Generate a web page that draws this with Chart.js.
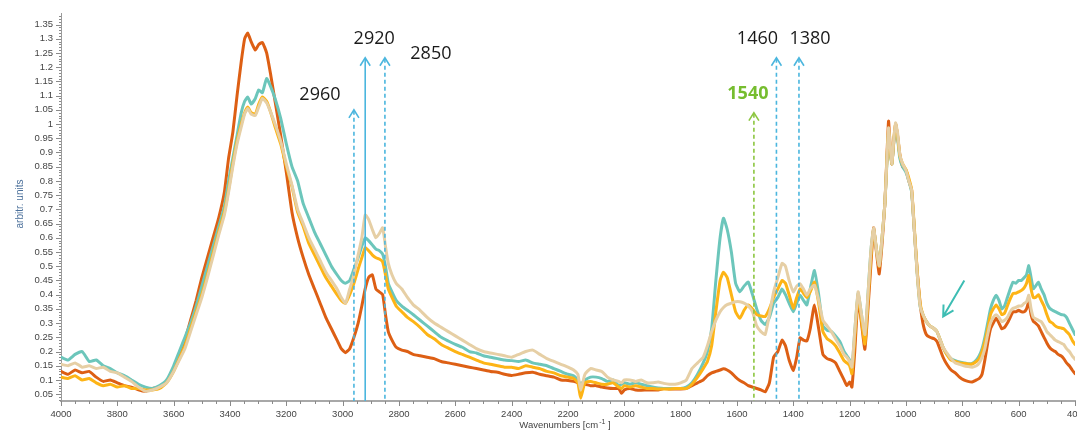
<!DOCTYPE html>
<html>
<head>
<meta charset="utf-8">
<script src="https://cdn.jsdelivr.net/npm/chart.js@4.4.1/dist/chart.umd.min.js"></script>
<style>
  html, body { margin: 0; padding: 0; background: #fff; width: 1077px; height: 432px; overflow: hidden; }
  canvas { display: block; }
</style>
</head>
<body>
<canvas id="chart" width="1100" height="432"></canvas>
<script>
// wavenumbers (cm-1), shared by all four spectra
const wavenumbers = [
  4000, 3975, 3950, 3925, 3900, 3875, 3850, 3825, 3800, 3775,
  3750, 3725, 3700, 3675, 3650, 3625, 3600, 3580, 3560, 3540,
  3520, 3500, 3480, 3460, 3440, 3420, 3405, 3390, 3375, 3360,
  3348, 3337, 3325, 3310, 3298, 3285, 3270, 3255, 3240, 3220,
  3200, 3180, 3160, 3140, 3120, 3100, 3080, 3060, 3040, 3020,
  3005, 2990, 2975, 2960, 2945, 2932, 2920, 2908, 2895, 2882,
  2870, 2858, 2848, 2838, 2825, 2810, 2790, 2770, 2750, 2725,
  2700, 2675, 2650, 2625, 2600, 2575, 2550, 2525, 2500, 2475,
  2450, 2425, 2400, 2375, 2350, 2325, 2300, 2275, 2250, 2225,
  2200, 2180, 2165, 2155, 2140, 2120, 2100, 2080, 2060, 2040,
  2020, 2010, 2000, 1980, 1960, 1940, 1920, 1900, 1880, 1860,
  1840, 1820, 1800, 1780, 1760, 1740, 1720, 1705, 1690, 1675,
  1660, 1648, 1635, 1620, 1605, 1590, 1575, 1560, 1545, 1530,
  1515, 1500, 1485, 1470, 1455, 1440, 1428, 1415, 1400, 1388,
  1376, 1364, 1352, 1340, 1325, 1310, 1295, 1280, 1265, 1250,
  1235, 1220, 1210, 1200, 1192, 1182, 1170, 1158, 1146, 1135,
  1125, 1115, 1105, 1095, 1085, 1075, 1068, 1062, 1056, 1050,
  1044, 1037, 1030, 1022, 1012, 1000, 990, 980, 970, 960,
  950, 940, 928, 915, 900, 890, 880, 868, 855, 840,
  825, 810, 795, 780, 765, 750, 740, 730, 720, 710,
  700, 690, 680, 670, 660, 650, 640, 630, 620, 610,
  600, 590, 580, 572, 564, 556, 548, 540, 530, 520,
  510, 500, 490, 480, 470, 460, 450, 440, 430, 420,
  410, 400
];

const rustValues = [
  .13, .12, .135, .125, .13, .11, .095, .1, .09, .08,
  .075, .065, .06, .07, .075, .095, .14, .18, .24, .31,
  .38, .46, .53, .6, .67, .76, .88, .97, 1.1, 1.22,
  1.3, 1.32, 1.29, 1.26, 1.28, 1.287, 1.25, 1.17, 1.08, .96,
  .83, .69, .6, .53, .47, .42, .37, .32, .28, .24,
  .21, .196, .21, .25, .3, .36, .42, .46, .47, .42,
  .41, .4, .33, .27, .24, .215, .205, .2, .19, .185,
  .18, .175, .165, .16, .155, .15, .145, .14, .135, .13,
  .127, .12, .116, .12, .125, .127, .12, .115, .11, .1,
  .098, .095, .09, .085, .085, .08, .08, .075, .072, .07,
  .07, .053, .065, .07, .065, .064, .065, .065, .065, .07,
  .068, .068, .068, .07, .08, .09, .1, .115, .125, .13,
  .135, .139, .135, .125, .11, .098, .09, .08, .075, .07,
  .065, .058, .09, .18, .2, .24, .22, .17, .133, .18,
  .248, .24, .237, .28, .364, .28, .19, .175, .17, .16,
  .13, .1, .08, .093, .075, .2, .387, .3, .208, .35,
  .5, .635, .55, .473, .58, .721, .88, 1.01, .92, .86,
  .93, 1.0, .96, .894, .85, .837, .8, .767, .62, .48,
  .37, .3, .26, .25, .245, .235, .21, .179, .155, .135,
  .125, .11, .1, .095, .093, .1, .105, .12, .17, .23,
  .28, .3, .317, .3, .28, .285, .3, .32, .34, .34,
  .345, .34, .34, .35, .375, .33, .306, .3, .29, .27,
  .25, .23, .214, .205, .2, .19, .185, .175, .16, .15,
  .135, .122
];

const tealValues = [
  .18, .17, .19, .2, .165, .17, .15, .14, .125, .115,
  .1, .085, .075, .07, .08, .1, .15, .2, .25, .3,
  .36, .43, .5, .57, .64, .71, .8, .88, .96, 1.04,
  1.08, 1.095, 1.07, 1.09, 1.12, 1.11, 1.16, 1.13, 1.09, 1.02,
  .93, .85, .8, .72, .67, .62, .58, .54, .5, .47,
  .45, .44, .45, .49, .53, .57, .6, .59, .575, .56,
  .555, .542, .5, .44, .41, .38, .36, .345, .33, .31,
  .29, .27, .25, .237, .225, .215, .2, .195, .185, .18,
  .175, .17, .168, .165, .17, .16, .155, .15, .14, .13,
  .12, .115, .1, .085, .1, .11, .11, .105, .095, .1,
  .08, .085, .09, .085, .09, .085, .08, .075, .072, .07,
  .07, .07, .07, .075, .09, .12, .16, .2, .28, .45,
  .6, .669, .63, .55, .44, .41, .43, .444, .4, .35,
  .31, .295, .32, .37, .39, .42, .4, .37, .34, .37,
  .398, .38, .364, .42, .485, .4, .29, .275, .27, .255,
  .235, .2, .185, .17, .135, .27, .404, .33, .243, .4,
  .55, .629, .56, .502, .6, .72, .86, .97, .9, .86,
  .93, .99, .95, .88, .85, .83, .8, .76, .62, .47,
  .36, .33, .306, .29, .28, .27, .245, .214, .19, .175,
  .168, .163, .16, .157, .158, .17, .185, .21, .25, .3,
  .35, .38, .398, .38, .35, .36, .39, .42, .444, .44,
  .45, .45, .46, .47, .502, .46, .421, .43, .444, .42,
  .4, .37, .352, .345, .34, .335, .33, .329, .32, .3,
  .28, .26
];

const amberValues = [
  .11, .105, .115, .1, .105, .09, .08, .085, .075, .08,
  .07, .07, .065, .065, .07, .09, .13, .175, .22, .28,
  .34, .4, .47, .545, .62, .69, .77, .86, .94, 1.0,
  1.04, 1.06, 1.04, 1.035, 1.07, 1.095, 1.08, 1.04, .99, .93,
  .85, .78, .69, .64, .58, .54, .5, .46, .43, .4,
  .38, .37, .4, .44, .49, .53, .565, .555, .54, .53,
  .525, .515, .47, .42, .39, .36, .34, .32, .306, .285,
  .26, .245, .225, .212, .2, .19, .18, .17, .16, .155,
  .15, .145, .145, .14, .15, .145, .14, .13, .125, .115,
  .11, .105, .09, .036, .09, .095, .09, .085, .085, .09,
  .075, .07, .08, .075, .08, .075, .07, .07, .068, .068,
  .068, .07, .07, .07, .085, .11, .14, .165, .22, .34,
  .45, .479, .46, .4, .34, .317, .345, .364, .35, .33,
  .325, .323, .35, .39, .42, .45, .44, .4, .352, .39,
  .421, .405, .39, .41, .444, .37, .27, .245, .235, .22,
  .195, .168, .16, .15, .122, .25, .399, .31, .226, .38,
  .53, .63, .56, .5, .6, .72, .87, .98, .91, .86,
  .94, 1.0, .96, .89, .86, .84, .81, .77, .63, .48,
  .37, .33, .306, .29, .28, .27, .245, .214, .19, .17,
  .165, .16, .158, .156, .156, .165, .175, .2, .235, .28,
  .33, .35, .364, .35, .33, .335, .36, .385, .404, .405,
  .41, .415, .425, .44, .467, .42, .39, .39, .4, .38,
  .36, .33, .306, .3, .29, .285, .283, .28, .27, .26,
  .24, .225
];

const beigeValues = [
  .155, .15, .16, .145, .15, .14, .145, .13, .125, .11,
  .095, .075, .06, .065, .075, .09, .13, .17, .21, .27,
  .33, .39, .46, .535, .61, .68, .76, .85, .93, .99,
  1.035, 1.055, 1.035, 1.03, 1.06, 1.09, 1.075, 1.04, 1.0, .94,
  .86, .785, .7, .65, .6, .56, .52, .48, .45, .42,
  .39, .37, .42, .47, .54, .6, .68, .665, .63, .6,
  .615, .635, .57, .51, .47, .44, .42, .39, .365, .345,
  .32, .3, .285, .27, .255, .24, .225, .21, .2, .195,
  .19, .185, .18, .19, .2, .205, .19, .175, .165, .155,
  .145, .135, .12, .064, .12, .14, .135, .13, .11, .1,
  .095, .09, .1, .1, .095, .1, .09, .09, .093, .088,
  .085, .085, .09, .1, .14, .16, .18, .22, .27, .31,
  .34, .355, .365, .37, .375, .375, .37, .36, .34, .29,
  .27, .26, .33, .41, .46, .51, .5, .45, .41, .43,
  .438, .42, .398, .42, .433, .38, .31, .29, .27, .245,
  .22, .19, .18, .165, .145, .27, .41, .33, .26, .4,
  .55, .635, .56, .502, .6, .72, .87, .987, .92, .86,
  .94, 1.004, .97, .894, .86, .837, .8, .767, .62, .47,
  .36, .33, .306, .29, .28, .27, .245, .214, .195, .175,
  .16, .155, .15, .147, .145, .15, .16, .18, .21, .26,
  .3, .32, .329, .32, .305, .31, .32, .34, .352, .355,
  .36, .36, .37, .375, .398, .35, .32, .315, .31, .305,
  .29, .27, .26, .25, .24, .235, .23, .225, .21, .2,
  .185, .173
];

// axis tick labels
const xTickValues = [4000, 3800, 3600, 3400, 3200, 3000, 2800, 2600, 2400, 2200, 2000, 1800, 1600, 1400, 1200, 1000, 800, 600, 400];
const yTickValues = [0.05, 0.1, 0.15, 0.2, 0.25, 0.3, 0.35, 0.4, 0.45, 0.5, 0.55, 0.6, 0.65, 0.7, 0.75, 0.8, 0.85, 0.9, 0.95, 1, 1.05, 1.1, 1.15, 1.2, 1.25, 1.3, 1.35];

// band markers drawn over the spectra
const markerBands = [2960, 2920, 2850, 1540, 1460, 1380];
const markerLabels = ["2960", "2920", "2850", "1540", "1460", "1380"];

const toPoints = (vals) => wavenumbers.map((w, i) => ({ x: w, y: vals[i] }));

// marker drawing settings: top of the line (y value), label offset in px, style
const markerStyle = [
  { top: 1.05,  dx: -34, dy: -15, solid: false, green: false },
  { top: 1.233, dx: 9,   dy: -19, solid: true,  green: false },
  { top: 1.233, dx: 46,  dy: -4,  solid: false, green: false },
  { top: 1.04,  dx: -6,  dy: -19, solid: false, green: true },
  { top: 1.233, dx: -19, dy: -19, solid: false, green: false },
  { top: 1.233, dx: 11,  dy: -19, solid: false, green: false },
];

const overlay = {
  id: "overlay",
  afterDatasetsDraw(chart) {
    const { ctx, chartArea } = chart;
    const x = chart.scales.x;
    const y = chart.scales.y;

    ctx.save();
    // minor ticks on y axis
    ctx.strokeStyle = "#8a8a8a";
    ctx.lineWidth = 1;
    for (let k = 3; k <= 138; k++) {
      const py = Math.round(y.getPixelForValue(k / 100)) + 0.5;
      const len = k % 5 === 0 ? 5 : 2;
      ctx.beginPath();
      ctx.moveTo(chartArea.left - len, py);
      ctx.lineTo(chartArea.left, py);
      ctx.stroke();
    }
    // minor ticks on x axis
    for (let w = 400; w <= 4000; w += 50) {
      const px = Math.round(x.getPixelForValue(w)) + 0.5;
      const len = w % 200 === 0 ? 5 : 3;
      ctx.beginPath();
      ctx.moveTo(px, chartArea.bottom);
      ctx.lineTo(px, chartArea.bottom + len);
      ctx.stroke();
    }

    // vertical band markers with open arrow heads
    markerBands.forEach((band, i) => {
      const st = markerStyle[i];
      const px = x.getPixelForValue(band);
      const top = y.getPixelForValue(st.top);
      const col = st.green ? "#8cc63f" : "#4bb6de";
      ctx.strokeStyle = col;
      ctx.lineWidth = 1.6;
      ctx.setLineDash(st.solid ? [] : [4, 3]);
      ctx.beginPath();
      ctx.moveTo(px, top + 1);
      ctx.lineTo(px, chartArea.bottom);
      ctx.stroke();
      ctx.setLineDash([]);
      ctx.beginPath();
      ctx.moveTo(px - 5, top + 8);
      ctx.lineTo(px, top);
      ctx.lineTo(px + 5, top + 8);
      ctx.stroke();

      ctx.font = (st.green ? "bold " : "") + '18px "Open Sans"';
      ctx.fillStyle = st.green ? "#76bd2f" : "#1a1a1a";
      ctx.textAlign = "center";
      ctx.textBaseline = "middle";
      ctx.fillText(markerLabels[i], px + st.dx, top + st.dy);
    });

    // teal arrow pointing at the shoulder near 870
    const ax0 = x.getPixelForValue(793), ay0 = y.getPixelForValue(0.45);
    const ax1 = x.getPixelForValue(868), ay1 = y.getPixelForValue(0.323);
    ctx.strokeStyle = "#3dbdb3";
    ctx.lineWidth = 2;
    ctx.beginPath();
    ctx.moveTo(ax0, ay0);
    ctx.lineTo(ax1, ay1);
    const ang = Math.atan2(ay1 - ay0, ax1 - ax0);
    ctx.moveTo(ax1 - 12 * Math.cos(ang - 0.5), ay1 - 12 * Math.sin(ang - 0.5));
    ctx.lineTo(ax1, ay1);
    ctx.lineTo(ax1 - 12 * Math.cos(ang + 0.5), ay1 - 12 * Math.sin(ang + 0.5));
    ctx.stroke();

    // axis titles
    ctx.fillStyle = "#4a6f9a";
    ctx.font = '10px "Liberation Sans"';
    ctx.textAlign = "center";
    ctx.textBaseline = "middle";
    ctx.translate(20, 204);
    ctx.rotate(-Math.PI / 2);
    ctx.fillText("arbitr. units", 0, 0);
    ctx.setTransform(1, 0, 0, 1, 0, 0);

    ctx.fillStyle = "#444";
    ctx.textAlign = "left";
    ctx.textBaseline = "alphabetic";
    const part1 = "Wavenumbers [cm";
    const part3 = " ]";
    ctx.font = '9.5px "Liberation Sans"';
    const w1 = ctx.measureText(part1).width;
    const w3 = ctx.measureText(part3).width;
    ctx.font = '7px "Liberation Sans"';
    const w2 = ctx.measureText("-1").width + 1;
    const startX = 565 - (w1 + w2 + w3) / 2;
    ctx.font = '9.5px "Liberation Sans"';
    ctx.fillText(part1, startX, 428);
    ctx.fillText(part3, startX + w1 + w2, 428);
    ctx.font = '7px "Liberation Sans"';
    ctx.fillText("-1", startX + w1 + 1, 424);
    ctx.restore();
  }
};

Chart.defaults.font.family = '"Liberation Sans", sans-serif';

const ctx = document.getElementById("chart");
new Chart(ctx, {
  type: "line",
  data: {
    datasets: [
      { label: "beige", data: toPoints(beigeValues), borderColor: "#e6cfa5" },
      { label: "amber", data: toPoints(amberValues), borderColor: "#fdb416" },
      { label: "teal", data: toPoints(tealValues), borderColor: "#6cc6bb" },
      { label: "rust", data: toPoints(rustValues), borderColor: "#dd5f14" },
    ],
  },
  options: {
    responsive: false,
    animation: false,
    layout: { padding: { top: 8, right: 25, left: 0, bottom: 0 } },
    elements: {
      line: { borderWidth: 3, tension: 0.15, borderJoinStyle: "round", borderCapStyle: "round" },
      point: { radius: 0 },
    },
    plugins: {
      legend: { display: false },
      tooltip: { enabled: false },
    },
    scales: {
      x: {
        type: "linear",
        reverse: true,
        min: 400,
        max: 4000,
        grid: { display: false, drawTicks: false },
        border: { display: true, color: "#a8a8a8", width: 2 },
        afterBuildTicks: (axis) => { axis.ticks = xTickValues.map((v) => ({ value: v })); },
        afterFit: (scale) => { scale.height = 31; },
        ticks: {
          autoSkip: false,
          maxRotation: 0,
          padding: 8,
          color: "#444",
          font: { size: 9.5 },
          callback: (v) => String(v),
        },
      },
      y: {
        min: 0.026,
        max: 1.388,
        grid: { display: false, drawTicks: false },
        border: { display: true, color: "#9a9a9a", width: 1 },
        afterBuildTicks: (axis) => { axis.ticks = yTickValues.map((v) => ({ value: v })); },
        afterFit: (scale) => { scale.width = 61; },
        ticks: {
          autoSkip: false,
          padding: 8,
          color: "#444",
          font: { size: 9.5 },
          callback: (v) => String(+v.toFixed(2)),
        },
      },
    },
  },
  plugins: [overlay],
});
</script>
</body>
</html>
